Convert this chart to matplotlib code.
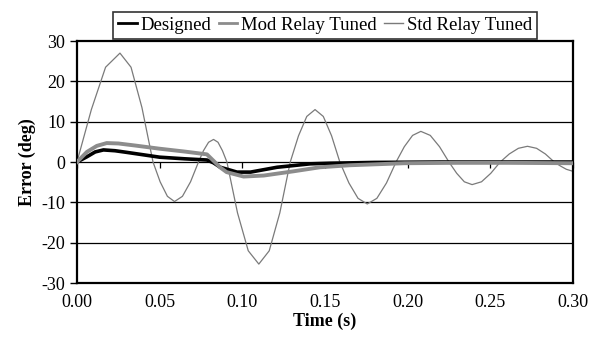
import numpy as np
from matplotlib import pyplot as plt

plt.rcParams['font.family'] = ['Liberation Serif', 'DejaVu Serif']
plt.rcParams['axes.unicode_minus'] = False

# Std relay tuned (thin grey oscillation)
std_t = [0.0, 0.0087, 0.0173, 0.026, 0.0327, 0.0393, 0.046, 0.0503, 0.0547, 0.059,
         0.0638, 0.0687, 0.0735, 0.0765, 0.0796, 0.0826, 0.0853, 0.088, 0.0907,
         0.0971, 0.1036, 0.110, 0.1163, 0.1227, 0.129, 0.134, 0.139, 0.144,
         0.149, 0.154, 0.159, 0.1645, 0.170, 0.1756, 0.1814, 0.1872, 0.193,
         0.198, 0.203, 0.208, 0.2137, 0.2193, 0.225, 0.2297, 0.2343, 0.239,
         0.2447, 0.2503, 0.256, 0.2615, 0.267, 0.2725, 0.278, 0.2833, 0.2887,
         0.2925, 0.296, 0.300]
std_v = [0.0, 13.0, 23.5, 27.0, 23.5, 13.5, 0.0, -4.9, -8.5, -9.8,
         -8.5, -4.9, 0.0, 2.8, 4.9, 5.6, 4.9, 2.8, 0.0,
         -12.6, -22.0, -25.3, -22.0, -12.6, 0.0, 6.5, 11.3, 13.0,
         11.3, 6.5, 0.0, -5.2, -9.0, -10.4, -9.0, -5.2, 0.0,
         3.8, 6.6, 7.6, 6.6, 3.8, 0.0, -2.8, -4.9, -5.6,
         -4.9, -2.8, 0.0, 2.0, 3.4, 3.9, 3.4, 2.0, 0.0,
         -1.0, -1.8, -2.3]

# Mod relay tuned (thick light grey)
mod_t = [0.0, 0.006, 0.012, 0.018, 0.025, 0.035, 0.050, 0.065, 0.0786, 0.0826,
         0.0865, 0.0905, 0.1008, 0.113, 0.131, 0.147, 0.165, 0.198, 0.230, 0.260, 0.300]
mod_v = [0.0, 2.5, 4.0, 4.7, 4.6, 4.1, 3.3, 2.6, 1.9, 0.3,
         -1.3, -2.5, -3.6, -3.35, -2.3, -1.3, -0.8, -0.3, -0.2, -0.2, -0.3]

# Designed (thick black)
des_t = [0.0, 0.006, 0.011, 0.016, 0.023, 0.030, 0.040, 0.050, 0.065, 0.0786,
         0.0826, 0.0867, 0.0968, 0.105, 0.121, 0.141, 0.153, 0.180, 0.220, 0.260, 0.300]
des_v = [0.0, 1.3, 2.5, 3.0, 2.8, 2.4, 1.8, 1.2, 0.8, 0.5,
         -0.2, -1.3, -2.5, -2.5, -1.3, -0.45, -0.3, -0.1, 0.0, 0.0, 0.0]

x_ticks = [0.00, 0.05, 0.10, 0.15, 0.20, 0.25, 0.30]
y_ticks = [-30, -20, -10, 0, 10, 20, 30]

fig = plt.figure(figsize=(5.99, 3.49), dpi=100)
ax = fig.add_axes([0.1285, 0.189, 0.828, 0.6935])

for y in y_ticks[1:-1]:
    ax.axhline(y, color='black', lw=0.9, zorder=1)

ax.plot(des_t, des_v, color='black', lw=2.6, label='Designed', zorder=3)
ax.plot(mod_t, mod_v, color='#8c8c8c', lw=2.8, label='Mod Relay Tuned', zorder=4)
ax.plot(std_t, std_v, color='#7a7a7a', lw=0.9, label='Std Relay Tuned', zorder=2)

ax.set_xlim(0, 0.30)
ax.set_ylim(-30, 30)
ax.set_xticks(x_ticks)
ax.set_xticklabels(['%.2f' % v for v in x_ticks])
ax.set_yticks(y_ticks)
ax.tick_params(axis='x', length=0, labelsize=13, pad=8)
ax.tick_params(axis='y', length=5, width=1, labelsize=13, direction='out')
for s in ax.spines.values():
    s.set_linewidth(1.6)

# x tick marks on the zero line, pointing down
sec = ax.secondary_xaxis(0.5)
sec.set_xticks(x_ticks)
sec.xaxis.set_ticks_position('bottom')
sec.tick_params(axis='x', length=4, width=0.9, direction='out',
                bottom=True, top=False, labelbottom=False, labeltop=False)
for s in sec.spines.values():
    s.set_visible(False)

ax.set_xlabel('Time (s)', fontsize=13, fontweight='bold', labelpad=1)
ax.set_ylabel('Error (deg)', fontsize=13, fontweight='bold', labelpad=4)

leg = ax.legend(loc='lower center', bbox_to_anchor=(0.5, 1.01), ncol=3,
                fontsize=13.5, frameon=True, fancybox=False, handlelength=1.0,
                handletextpad=0.2, columnspacing=0.4, borderpad=0.25,
                borderaxespad=0)
leg.get_frame().set_edgecolor('black')
leg.get_frame().set_linewidth(1.2)
for h, w in zip(leg.get_lines(), [2.0, 2.0, 1.0]):
    h.set_linewidth(w)

fig.savefig('out.png', dpi=100)
